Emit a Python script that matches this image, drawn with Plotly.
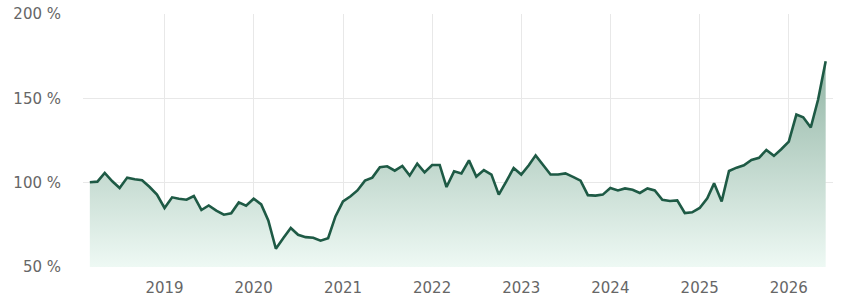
import plotly.graph_objects as go
import pandas as pd

start_month = "2018-03-01"
values = [
    100.2, 100.6, 105.8, 100.8, 96.8, 103.0, 102.0, 101.4, 97.4, 92.9,
    85.0, 91.3, 90.5, 89.9, 92.1, 83.8, 86.5, 83.4, 81.0, 81.8, 88.3, 86.3,
    90.5, 87.1, 77.6, 60.8, 67.1, 73.1, 69.1, 67.7, 67.3, 65.6, 67.1, 80.0,
    88.9, 91.9, 95.4, 101.2, 103.0, 109.1, 109.7, 107.1, 109.9, 104.2, 111.3, 106.1,
    110.5, 110.5, 97.4, 106.7, 105.5, 113.2, 103.6, 107.5, 104.8, 92.9, 100.8, 108.7,
    104.8, 110.3, 116.2, 110.3, 104.8, 104.8, 105.5, 103.4, 101.2, 92.6, 92.3, 92.9,
    96.8, 95.4, 96.6, 95.8, 93.9, 96.6, 95.4, 89.9, 89.1, 89.5, 82.0, 82.4,
    85.0, 90.7, 99.6, 88.9, 106.9, 108.9, 110.3, 113.5, 114.7, 119.4, 115.9, 119.8,
    124.3, 140.4, 138.8, 132.7, 149.3, 172.0,
]
dates = pd.date_range(start_month, periods=len(values), freq="MS")
y_ticks = [50, 100, 150, 200]

line_color = "#1e5a45"

fig = go.Figure()
fig.add_trace(go.Scatter(
    x=dates, y=values, mode="lines",
    line=dict(color=line_color, width=2.6),
    fill="tozeroy",
    fillgradient=dict(type="vertical", start=50, stop=max(values),
                      colorscale=[[0, "#eef9f4"], [1, "#92b5a5"]]),
    hoverinfo="skip",
))

fig.update_layout(
    width=841, height=300,
    margin=dict(l=83, r=8, t=14, b=33, autoexpand=False),
    plot_bgcolor="white", paper_bgcolor="white",
    showlegend=False,
    font=dict(family="DejaVu Sans", size=15, color="#666666"),
)
fig.update_xaxes(
    range=["2018-02-01", "2026-07-01"],
    tick0="2019-01-01", dtick="M12", tickformat="%Y",
    showgrid=True, gridcolor="#e8e8e8", gridwidth=1,
    zeroline=False, showline=False,
    ticks="outside", ticklen=7, tickcolor="rgba(0,0,0,0)",
)
fig.update_yaxes(
    range=[50, 200], tickvals=y_ticks,
    ticktext=[f"{v} %" for v in y_ticks],
    showgrid=True, gridcolor="#e8e8e8", gridwidth=1,
    zeroline=False, showline=False,
    ticks="outside", ticklen=18, tickcolor="rgba(0,0,0,0)",
)
fig.write_html("out.html", config={"displayModeBar": False},
               post_script="document.body.style.margin='0';")
